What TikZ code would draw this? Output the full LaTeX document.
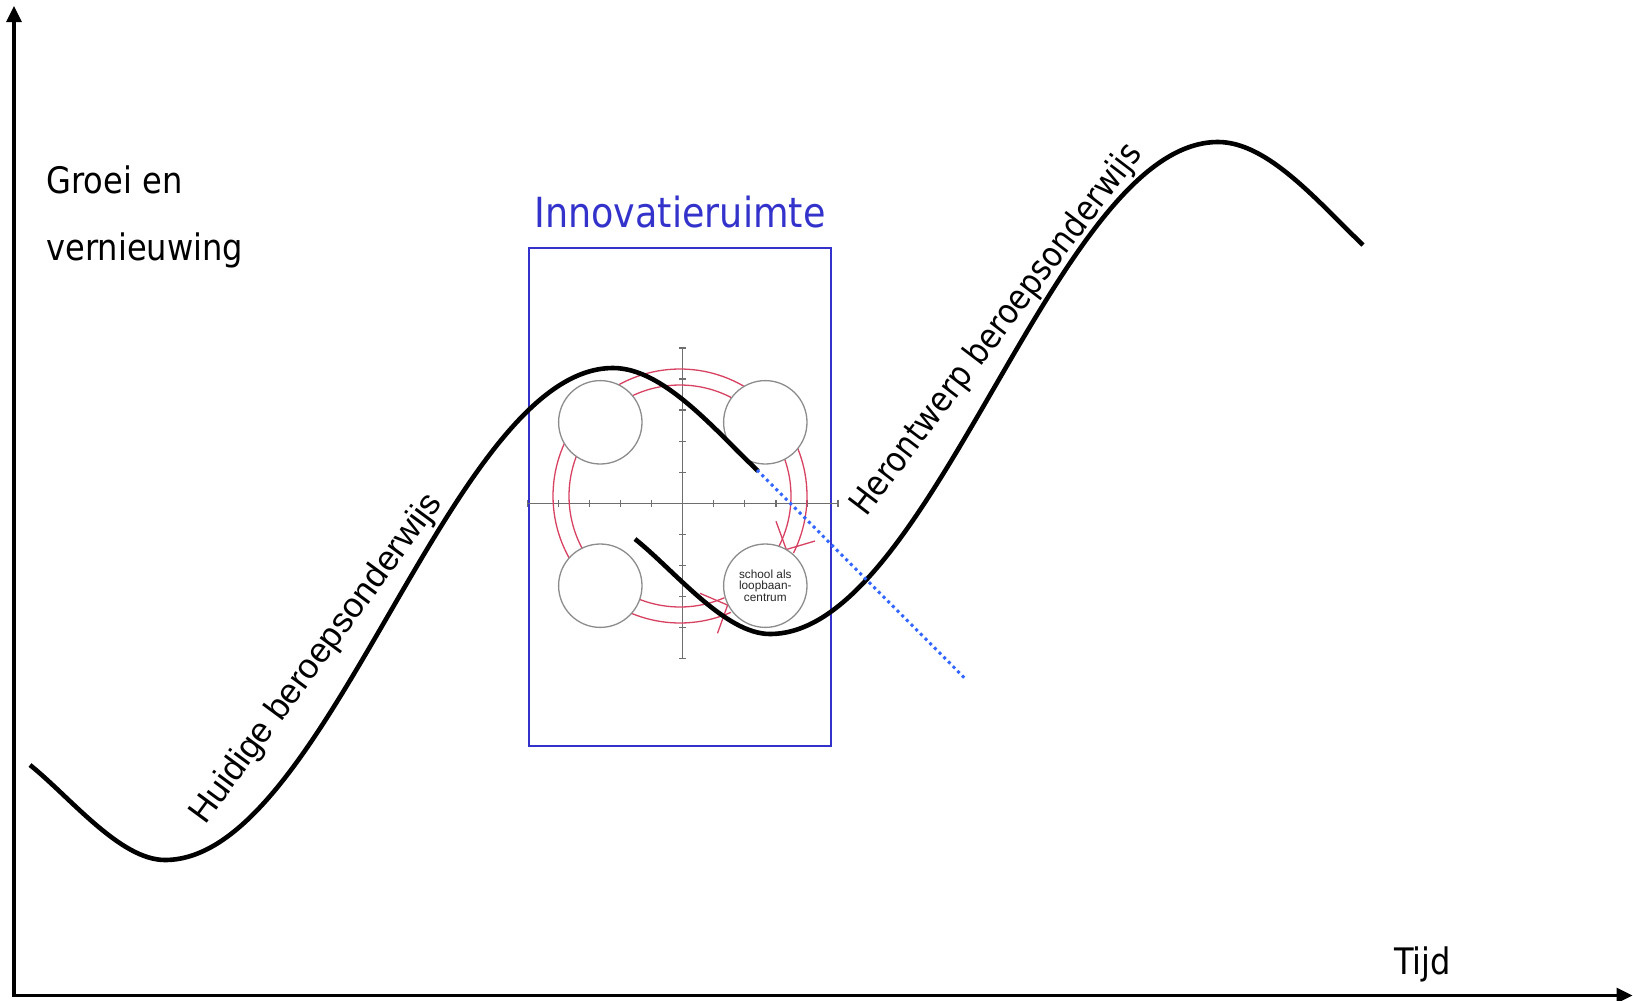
\documentclass[tikz,border=0pt]{standalone}
\usepackage{fontspec}
\setmainfont{Liberation Sans}
\newfontfamily\tahoma[FakeStretch=0.88]{DejaVu Sans}
\usetikzlibrary{arrows.meta}
\definecolor{boxblue}{RGB}{51,51,204}
\definecolor{dotblue}{RGB}{51,102,255}
\definecolor{arcred}{RGB}{216,66,98}
\definecolor{circgray}{RGB}{140,140,140}
\definecolor{axgray}{RGB}{110,110,110}
\definecolor{txtgray}{RGB}{40,40,40}
\begin{document}
\begin{tikzpicture}[x=1pt,y=-1pt,
  mainaxis/.style={line width=3.3pt, {Triangle[length=16pt,width=15pt]}-{Triangle[length=16pt,width=15pt]}},
  curve/.style={line width=4.6pt},
  minicirc/.style={circle, draw=circgray, line width=1.3pt, fill=white, minimum size=83.4pt, inner sep=0pt},
  ringarc/.style={draw=arcred, line width=1.3pt},
  tickline/.style={draw=axgray, line width=1.3pt},
  lbl/.style={inner sep=0pt, outer sep=0pt},
]
\useasboundingbox (0,0) rectangle (1633,1001);

% main axes
\coordinate (O) at (14,995.5);
\coordinate (ytop) at (14,6);
\coordinate (xend) at (1632.5,995.5);
\draw[mainaxis] (ytop) -- (O) -- (xend);

% innovation box
\node[draw=boxblue, line width=2pt, minimum width=302pt, minimum height=497.4pt, inner sep=0pt] (innobox) at (680,497) {};

% small cross of axes
\coordinate (hl) at (527.3,503.3);
\coordinate (hr) at (838,503.3);
\coordinate (vt) at (682.7,348);
\coordinate (vb) at (682.7,658.6);
\draw[tickline] (hl) -- (hr);
\draw[tickline] (vt) -- (vb);
\foreach \k in {-5,...,5} {
  \draw[tickline] ({682.7+31.07*\k},500) -- ({682.7+31.07*\k},506.6);
  \draw[tickline] (679.4,{503.3+31.07*\k}) -- (686,{503.3+31.07*\k});
}

% red double ring with open arrow heads
\draw[ringarc] plot[domain=66.4:386.7, samples=140] ({680+111*cos(\x)},{496+111*sin(\x)});
\draw[ringarc] plot[domain=66.4:386.7, samples=140] ({680+127*cos(\x)},{496+127*sin(\x)});
\coordinate (tipR) at (786.3,549.5);
\coordinate (tipB) at (727.6,605.1);
\draw[ringarc] (776,521.3) -- (tipR) -- (815,541);
\draw[ringarc] (700,593.3) -- (tipB) -- (717.5,633.3);

% four circles
\node[minicirc] (ul) at (600.3,422.3) {};
\node[minicirc] (ur) at (765.3,422.3) {};
\node[minicirc] (ll) at (600.3,585.7) {};
\node[minicirc, align=center, text=txtgray, font=\fontsize{11.8}{11.4}\selectfont] (lr) at (765.3,585.7) {school als\\loopbaan-\\centrum};

% black S-curves (the second is the first, shifted)
\draw[curve] (30,765) .. controls (70,797) and (120,860) .. (165,860)
  .. controls (327.8,860) and (450.2,368) .. (613,368)
  .. controls (663,368) and (713,428) .. (758,471);
\begin{scope}[shift={(605,-226)}]
\draw[curve] (30,765) .. controls (70,797) and (120,860) .. (165,860)
  .. controls (327.8,860) and (450.2,368) .. (613,368)
  .. controls (663,368) and (713,428) .. (758,471);
\end{scope}

% dotted continuation
\coordinate (c1end) at (757,470);
\coordinate (dotend) at (964.3,677.7);
\draw[dotblue, line width=3pt, dash pattern=on 3pt off 3.6pt] (c1end) -- (dotend);

% texts
\node[lbl, anchor=base west, font=\tahoma\fontsize{36.5}{40}\selectfont] (groei) at (46.5,193.3) {Groei en};
\node[lbl, anchor=base west, font=\tahoma\fontsize{36.5}{40}\selectfont] (vern) at (46.5,260) {vernieuwing};
\node[lbl, anchor=base west, font=\tahoma\fontsize{36.5}{40}\selectfont] (tijd) at (1394,974) {Tijd};
\node[lbl, anchor=base, text=boxblue, font=\tahoma\fontsize{41.5}{45}\selectfont] (innov) at (680,227.3) {Innovatieruimte};
\node[lbl, rotate=53.6, font=\fontsize{34.8}{38}\selectfont] (huidig) at (317,659) {Huidige beroepsonderwijs};
\node[lbl, rotate=52.7, font=\tahoma\fontsize{34.6}{38}\selectfont] (heront) at (997,330) {Herontwerp beroepsonderwijs};
\end{tikzpicture}
\end{document}
